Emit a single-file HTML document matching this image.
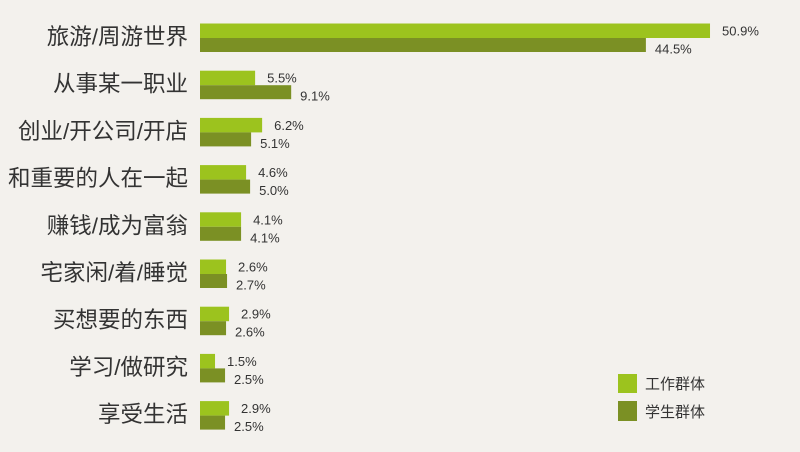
<!DOCTYPE html>
<html><head><meta charset="utf-8"><style>
body{margin:0;background:#f3f1ed;width:800px;height:447px;overflow:hidden;font-family:"Liberation Sans","Noto Sans CJK SC",sans-serif}
</style></head><body>
<svg width="800" height="447" xmlns="http://www.w3.org/2000/svg" font-family="Liberation Sans, Noto Sans CJK SC, sans-serif">
<rect width="800" height="447" fill="#f3f1ed"/>
<g id="g"></g>
<rect x="618" y="374" width="19" height="19" fill="#9cc31e"/>
<rect x="618" y="401" width="19" height="20" fill="#7b9024"/>
<text x="645" y="389" font-size="15" fill="#333">工作群体</text>
<text x="645" y="417" font-size="15" fill="#333">学生群体</text>
</svg>
<script>
var d=[["旅游/周游世界",50.9,44.5],["从事某一职业",5.5,9.1],["创业/开公司/开店",6.2,5.1],["和重要的人在一起",4.6,5.0],["赚钱/成为富翁",4.1,4.1],["宅家闲/着/睡觉",2.6,2.7],["买想要的东西",2.9,2.6],["学习/做研究",1.5,2.5],["享受生活",2.9,2.5]];
var s="";d.forEach(function(r,i){var y=23.5+i*47.2,a=r[1]*10.02,b=r[2]*10.02;
s+='<rect x="200" y="'+y+'" width="'+a+'" height="14.5" fill="#9cc31e"/>';
s+='<rect x="200" y="'+(y+14.5)+'" width="'+b+'" height="14" fill="#7b9024"/>';
s+='<text x="188" y="'+(y+21)+'" font-size="22.5" fill="#333" text-anchor="end">'+r[0]+'</text>';
s+='<text x="'+(200+a+12)+'" y="'+(y+12)+'" font-size="13" fill="#333">'+r[1].toFixed(1)+'%</text>';
s+='<text x="'+(200+b+9)+'" y="'+(y+30)+'" font-size="13" fill="#333">'+r[2].toFixed(1)+'%</text>';});
document.getElementById("g").innerHTML=s;
</script>
</body></html>
